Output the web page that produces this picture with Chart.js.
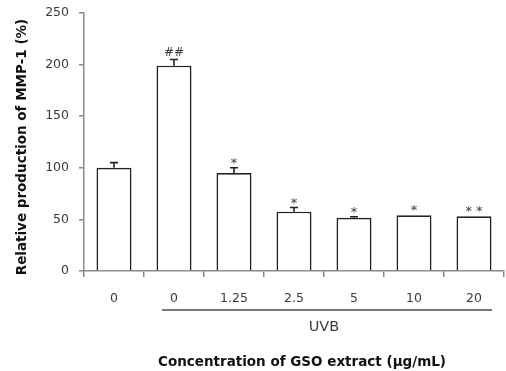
<!DOCTYPE html>
<html>
<head>
<meta charset="utf-8">
<script src="https://cdn.jsdelivr.net/npm/chart.js@4"></script>
<style>
  html, body { margin: 0; padding: 0; background: #fff; }
  #wrap { width: 506px; height: 371px; }
</style>
</head>
<body>
<div id="wrap"><canvas id="c" width="506" height="371"></canvas></div>
<script>
// GSO extract concentrations (µg/mL); all but the first group are UVB-irradiated
const categories = ['0', '0', '1.25', '2.5', '5', '10', '20'];
// Relative MMP-1 production (%)
const meanValues = [100, 199, 95, 57.5, 51.5, 54, 53];
// Standard deviation (upper error bars)
const sdValues = [5, 6, 5, 4, 1, 0, 0];
// Significance marks above each bar
const marks = ['', '##', '*', '*', '*', '*', '**'];
const yTicks = [0, 50, 100, 150, 200, 250];

const AXIS_GREY = '#8a8a8a';
const TEXT = '#3a3a3a';
const FONT = "'DejaVu Sans', 'Liberation Sans', sans-serif";

const extras = {
  id: 'extras',
  afterDatasetsDraw(chart) {
    const ctx = chart.ctx;
    const x = chart.scales.x, y = chart.scales.y;
    ctx.save();
    // upper error bars
    ctx.strokeStyle = '#222';
    ctx.lineWidth = 1.6;
    meanValues.forEach((v, i) => {
      const sd = sdValues[i];
      if (!sd) return;
      const cx = x.getPixelForValue(i);
      const y0 = y.getPixelForValue(v);
      const y1 = y.getPixelForValue(v + sd);
      ctx.beginPath();
      ctx.moveTo(cx, y0); ctx.lineTo(cx, y1);
      ctx.moveTo(cx - 4, y1); ctx.lineTo(cx + 4, y1);
      ctx.stroke();
    });
    // significance marks
    ctx.fillStyle = TEXT;
    ctx.textAlign = 'center';
    ctx.textBaseline = 'alphabetic';
    meanValues.forEach((v, i) => {
      const m = marks[i];
      if (!m) return;
      const cx = x.getPixelForValue(i);
      const top = y.getPixelForValue(v + sdValues[i]);
      ctx.font = (m[0] === '#' ? '12px ' : '13px ') + FONT;
      const txt = m === '**' ? '* *' : m;
      ctx.fillText(txt, cx, top + (m[0] === '#' ? -3 : -1));
    });
    ctx.restore();
  },
  afterDraw(chart) {
    const ctx = chart.ctx;
    const x = chart.scales.x;
    ctx.save();
    // UVB bracket line under irradiated groups
    const xs = x.getPixelForValue(1) - 12;
    const xe = x.getPixelForValue(6) + 18;
    ctx.strokeStyle = '#777';
    ctx.lineWidth = 2;
    ctx.beginPath();
    ctx.moveTo(xs, 310); ctx.lineTo(xe, 310);
    ctx.stroke();
    ctx.fillStyle = TEXT;
    ctx.textAlign = 'center';
    ctx.textBaseline = 'middle';
    ctx.font = '14.5px ' + FONT;
    ctx.fillText('UVB', (x.getPixelForValue(3) + x.getPixelForValue(4)) / 2, 327);
    // axis titles
    ctx.fillStyle = '#111';
    ctx.font = 'bold 13.5px ' + FONT;
    ctx.fillText('Concentration of GSO extract (\u03BCg/mL)', 302, 362);
    ctx.translate(22, 147);
    ctx.rotate(-Math.PI / 2);
    ctx.font = 'bold 13.5px ' + FONT;
    ctx.fillText('Relative production of MMP-1 (%)', 0, 0);
    ctx.restore();
  }
};

new Chart(document.getElementById('c'), {
  type: 'bar',
  data: {
    labels: categories,
    datasets: [{
      data: meanValues,
      backgroundColor: '#ffffff',
      borderColor: '#222222',
      borderWidth: 1.7,
      borderSkipped: 'bottom',
      barPercentage: 35 / 60,
      categoryPercentage: 1
    }]
  },
  options: {
    responsive: false,
    animation: false,
    devicePixelRatio: 1,
    layout: { padding: { left: 0, right: 2, top: 13, bottom: 0 } },
    plugins: { legend: { display: false }, tooltip: { enabled: false } },
    scales: {
      x: {
        offset: true,
        grid: { offset: true, drawOnChartArea: false, drawTicks: true, tickLength: 6, color: AXIS_GREY, lineWidth: 1.5 },
        border: { color: AXIS_GREY, width: 1.5 },
        ticks: { color: TEXT, font: { family: FONT, size: 12.5 }, padding: 14, maxRotation: 0 },
        afterFit(s) { s.height = 100; s.paddingLeft = 0; s.paddingRight = 0; }
      },
      y: {
        min: 0, max: 250,
        afterBuildTicks(s) { s.ticks = yTicks.map(v => ({ value: v })); },
        grid: { drawOnChartArea: false, drawTicks: true, tickLength: 5, color: AXIS_GREY, lineWidth: 1.5 },
        border: { color: AXIS_GREY, width: 1.5 },
        ticks: { color: TEXT, font: { family: FONT, size: 12.5 }, padding: 10 },
        afterFit(s) { s.width = 84; s.paddingTop = 0; s.paddingBottom = 0; }
      }
    }
  },
  plugins: [extras]
});
</script>
</body>
</html>
